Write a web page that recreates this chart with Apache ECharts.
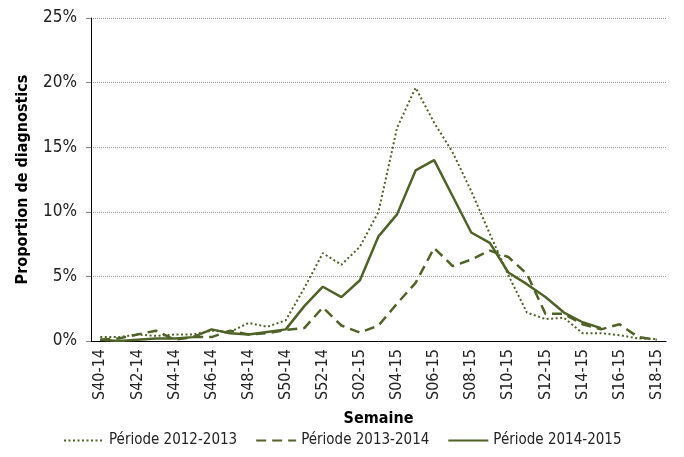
<!DOCTYPE html>
<html><head><meta charset="utf-8">
<script src="https://cdn.jsdelivr.net/npm/echarts@6/dist/echarts.min.js"></script>
<style>html,body{margin:0;padding:0;background:#fff}#c{width:684px;height:457px}</style>
</head><body><div id="c"></div>
<script>
var weeks = ['S40-14','S41-14','S42-14','S43-14','S44-14','S45-14','S46-14','S47-14','S48-14','S49-14','S50-14','S51-14','S52-14',
 'S01-15','S02-15','S03-15','S04-15','S05-15','S06-15','S07-15','S08-15','S09-15','S10-15','S11-15','S12-15','S13-15','S14-15','S15-15','S16-15','S17-15','S18-15'];
var p2012 = [0.3,0.3,0.5,0.4,0.5,0.5,0.8,0.7,1.4,1.1,1.6,4.1,6.8,5.9,7.3,10.0,16.5,19.6,16.9,14.6,11.6,8.3,5.1,2.2,1.7,1.8,0.6,0.6,0.45,0.2,0.15];
var p2013 = [0.1,0.2,0.5,0.8,0.1,0.3,0.3,0.8,0.5,0.6,0.85,1.0,2.6,1.2,0.65,1.2,2.9,4.5,7.2,5.8,6.3,7.0,6.5,5.2,2.1,2.1,1.3,0.9,1.3,0.3,0.1];
var p2014 = [0.1,0.0,0.1,0.2,0.2,0.3,0.9,0.6,0.5,0.7,0.9,2.7,4.2,3.4,4.7,8.1,9.8,13.2,14.0,11.2,8.4,7.6,5.3,4.4,3.4,2.2,1.45,1.0,null,null,null];
var names = ['Période 2012-2013','Période 2013-2014','Période 2014-2015'];
var yTicks = [0,5,10,15,20,25];

var F = "'Liberation Sans Narrow','DejaVu Sans Condensed','Roboto Condensed',sans-serif";
var col = '#4f6228';
var chart = echarts.init(document.getElementById('c'));
chart.setOption({
  animation:false,
  textStyle:{fontFamily:F},
  grid:{left:91,right:18,top:18,bottom:116},
  legend:{bottom:4,left:58,itemWidth:40,itemHeight:10,itemGap:18,
    itemStyle:{opacity:0},
    textStyle:{fontFamily:F,fontSize:15,color:'#222'},
    data:names},
  xAxis:{type:'category',data:weeks,boundaryGap:true,
    name:'Semaine',nameLocation:'middle',nameGap:70,
    nameTextStyle:{fontFamily:F,fontSize:16,fontWeight:'bold',color:'#000'},
    axisLine:{lineStyle:{color:'#000',width:1}},
    axisTick:{interval:0,length:6,lineStyle:{color:'#666'}},
    axisLabel:{interval:1,rotate:90,fontSize:16,color:'#222',fontFamily:F,margin:8}},
  yAxis:{type:'value',min:yTicks[0],max:yTicks[yTicks.length-1],interval:5,
    name:'Proportion de diagnostics',nameLocation:'middle',nameGap:60,
    nameTextStyle:{fontFamily:F,fontSize:16,fontWeight:'bold',color:'#000'},
    axisLine:{show:true,lineStyle:{color:'#000',width:1}},
    axisTick:{show:true,length:5,lineStyle:{color:'#888'}},
    axisLabel:{formatter:'{value}%',fontSize:17,color:'#222',fontFamily:F,margin:14},
    splitLine:{lineStyle:{color:'#999',type:[1,1],width:1}}},
  series:[
    {name:names[0],type:'line',data:p2012,symbol:'none',lineStyle:{color:col,width:2,type:[2,2.5]},itemStyle:{color:col}},
    {name:names[1],type:'line',data:p2013,symbol:'none',lineStyle:{color:col,width:2.5,type:[10,6]},itemStyle:{color:col}},
    {name:names[2],type:'line',data:p2014,symbol:'none',lineStyle:{color:col,width:2.5,type:'solid'},itemStyle:{color:col}}
  ]
});
</script></body></html>
